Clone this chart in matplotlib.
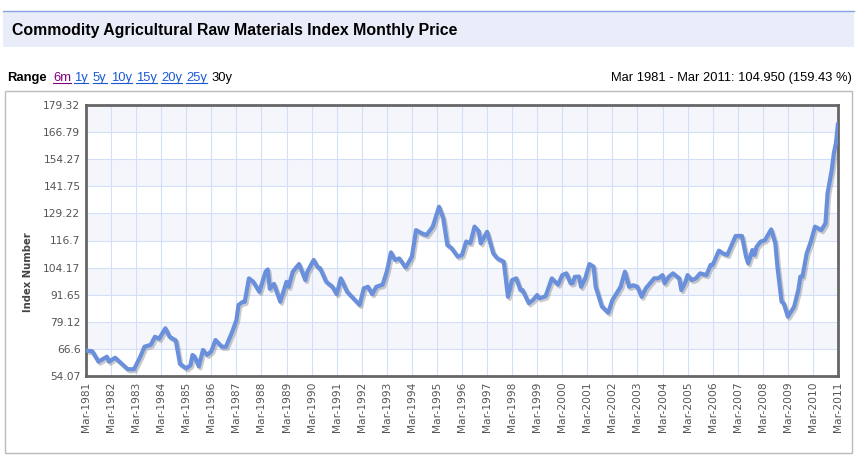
import numpy as np
import matplotlib
matplotlib.use('Agg')
import matplotlib.pyplot as plt
import matplotlib.patheffects as pe
from matplotlib.patches import Rectangle
from matplotlib.lines import Line2D

# months since Mar 1981, index value
MONTHS = [0, 3, 6, 10, 11, 14, 16, 20, 23, 26, 28, 31, 33, 35, 38, 40, 43, 45,
          48, 50, 51, 52, 54, 56, 58, 60, 62, 65, 67, 69, 70, 72, 73, 75, 76,
          78, 80, 83, 86, 87, 88, 90, 93, 96, 97, 99, 102, 105, 106, 109, 111,
          112, 115, 118, 120, 122, 125, 127, 131, 133, 135, 137, 139, 142, 144,
          146, 148, 150, 153, 156, 158, 161, 163, 166, 169, 171, 173, 175, 178,
          180, 182, 184, 186, 188, 189, 192, 195, 197, 200, 202, 204, 206, 208,
          209, 212, 214, 216, 217, 220, 223, 226, 228, 230, 232, 233, 234, 236,
          237, 239, 241, 243, 244, 247, 248, 250, 252, 255, 256, 258, 260, 262,
          264, 266, 268, 272, 274, 276, 277, 279, 281, 284, 285, 287, 288, 290,
          292, 294, 297, 299, 300, 303, 305, 307, 311, 314, 316, 317, 319, 320,
          321, 323, 325, 328, 330, 331, 333, 334, 336, 339, 341, 342, 343, 345,
          347, 349, 352, 354, 355, 357, 358, 359, 360]
VALUES = [65.83, 65.5, 60.7, 63.0, 60.7, 62.5, 60.7, 57.2, 57.2, 63.0, 67.6,
          68.5, 72.2, 71.3, 76.1, 72.2, 70.5, 59.6, 57.6, 59.0, 63.8, 63.0,
          58.5, 66.1, 63.8, 65.5, 70.7, 67.6, 67.6, 72.2, 74.5, 79.9, 86.9,
          88.3, 88.3, 99.2, 97.7, 93.0, 102.3, 103.3, 94.4, 96.6, 88.4, 97.6,
          95.3, 102.3, 105.8, 98.4, 102.3, 107.7, 104.2, 104.0, 97.6, 95.3,
          91.9, 99.2, 93.0, 91.0, 86.9, 94.6, 95.3, 91.9, 95.3, 96.3, 102.3,
          111.2, 107.7, 108.4, 104.2, 109.2, 121.5, 119.9, 119.2, 123.1, 132.3,
          127.0, 114.6, 113.2, 109.2, 110.0, 116.2, 115.5, 123.1, 121.0, 115.4,
          120.7, 110.7, 108.4, 106.9, 90.7, 98.4, 99.2, 93.8, 93.8, 87.7, 89.2,
          91.5, 90.0, 90.9, 99.2, 96.3, 100.7, 101.5, 96.9, 97.0, 99.9, 100.0,
          95.3, 99.2, 105.8, 104.6, 95.3, 86.1, 85.3, 83.3, 89.2, 93.8, 95.5,
          102.3, 95.3, 96.0, 95.3, 90.7, 94.6, 99.2, 99.2, 100.7, 96.9, 99.9,
          101.5, 99.2, 93.8, 97.6, 100.7, 98.4, 99.2, 101.5, 100.7, 105.4,
          105.4, 112.0, 110.7, 110.0, 118.8, 118.8, 109.2, 106.1, 112.3, 110.0,
          113.8, 116.2, 116.8, 121.8, 115.4, 104.6, 88.4, 87.7, 81.5, 86.1,
          93.8, 100.0, 100.0, 110.7, 116.2, 123.1, 121.5, 124.6, 138.5, 149.3,
          157.0, 161.6, 170.78]

YEARS = list(range(1981, 2012))
X_LABELS = ['Mar-%d' % y for y in YEARS]
Y_LABELS = ['54.07', '66.6', '79.12', '91.65', '104.17', '116.7', '129.22',
            '141.75', '154.27', '166.79', '179.32']
Y_MIN, Y_MAX = 54.07, 179.32

TITLE = 'Commodity Agricultural Raw Materials Index Monthly Price'
RANGE_LINKS = ['6m', '1y', '5y', '10y', '15y', '20y', '25y']
SUMMARY = 'Mar 1981 - Mar 2011: 104.950 (159.43 %)'

W, H = 858, 466
LINE_COLOR = '#6a90dc'
GRID_COLOR = '#d3dff6'
BAND_COLOR = '#f4f6fc'


def fx(px):
    return px / W


def fy(px):
    return 1 - px / H


fig = plt.figure(figsize=(W / 100, H / 100), dpi=100)
fig.patch.set_facecolor('white')

# header bar
fig.add_artist(Rectangle((fx(3), fy(47)), fx(851), 36 / H,
                         transform=fig.transFigure, facecolor='#e8edf9',
                         edgecolor='none'))
fig.add_artist(Line2D([fx(3), fx(854)], [fy(11), fy(11)],
                      transform=fig.transFigure, color='#8aa3e3', lw=1))
fig.text(fx(12), fy(30), TITLE, fontsize=11.4, fontweight='bold',
         family='Liberation Sans', va='center', ha='left', color='black')

# chart frame
fig.add_artist(Rectangle((fx(5), fy(453)), fx(847), 362 / H,
                         transform=fig.transFigure, facecolor='none',
                         edgecolor='#bbbbbb', lw=1))

# range row
range_texts = []
fig.text(fx(7), fy(78), 'Range', fontsize=9.4, fontweight='bold',
         family='Liberation Sans', va='center', ha='left')
x_pos = [53, 74, 93, 111, 136, 161, 186]
for i, lab in enumerate(RANGE_LINKS):
    col = '#800080' if i == 0 else '#1a5ad8'
    tt = fig.text(fx(x_pos[i]), fy(78), lab, fontsize=9.4,
                  family='Liberation Sans', va='center', ha='left', color=col)
    range_texts.append(tt)
fig.text(fx(211), fy(78), '30y', fontsize=9.4, family='Liberation Sans',
         va='center', ha='left', color='black')
fig.text(fx(852), fy(78), SUMMARY, fontsize=9.3, family='Liberation Sans',
         va='center', ha='right', color='black')

# main axes
ax = fig.add_axes([fx(86), fy(376), (838 - 86) / W, (376 - 105) / H])
ax.set_xlim(0, 360)
ax.set_ylim(Y_MIN, Y_MAX)
y_ticks = np.linspace(Y_MIN, Y_MAX, len(Y_LABELS))
for i in range(len(y_ticks) - 1):
    if i % 2 == 1:
        ax.axhspan(y_ticks[i], y_ticks[i + 1], color=BAND_COLOR, lw=0, zorder=0)
ax.set_yticks(y_ticks)
ax.set_yticklabels(Y_LABELS)
ax.set_xticks([12 * i for i in range(len(YEARS))])
ax.set_xticklabels(X_LABELS, rotation=90)
ax.grid(True, color=GRID_COLOR, lw=0.8, zorder=1)
ax.set_axisbelow(True)
ax.tick_params(length=0, labelsize=7.7, labelcolor='#555555', pad=4)
for s in ax.spines.values():
    s.set_color('#666666')
    s.set_linewidth(2)

ax.plot(MONTHS, VALUES, color=LINE_COLOR, lw=3, solid_joinstyle='round',
        solid_capstyle='round', zorder=3,
        path_effects=[pe.SimpleLineShadow(offset=(1.2, -1.5),
                                          shadow_color='#555555', alpha=0.3),
                      pe.Normal()])

fig.text(fx(28), fy(272), 'Index Number', rotation=90, fontsize=7.2,
         fontweight='bold', color='#444444', va='center', ha='center')

# underline the range links
fig.canvas.draw()
r = fig.canvas.get_renderer()
for tt in range_texts:
    bb = tt.get_window_extent(renderer=r)
    yl = bb.y0 + 1
    fig.add_artist(Line2D([bb.x0 / W, bb.x1 / W], [yl / H, yl / H],
                          transform=fig.transFigure, color=tt.get_color(),
                          lw=0.8))

fig.savefig('out.png', dpi=100)
